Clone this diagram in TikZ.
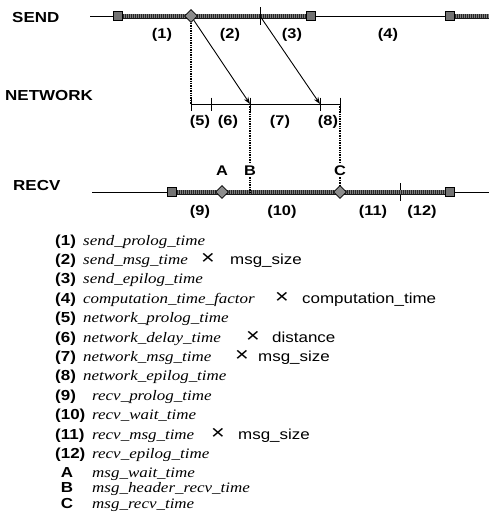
\documentclass[tikz,border=0pt]{standalone}
\usepackage{fontspec}
\setmainfont{Liberation Serif}[FakeStretch=1.17]
\setsansfont{Liberation Sans}[FakeStretch=1.17]
\usetikzlibrary{shapes.geometric,backgrounds,arrows.meta}

\tikzset{
  lane/.style={font=\sffamily\bfseries\fontsize{14.5}{16}\selectfont, anchor=base west, inner sep=0pt},
  seg/.style={font=\sffamily\bfseries\fontsize{14}{15}\selectfont, anchor=base, inner sep=0pt},
  eventlabel/.style={font=\sffamily\bfseries\fontsize{14}{15}\selectfont, anchor=base, inner sep=2pt},
  endbox/.style={draw, line width=0.8pt, fill=black!55, minimum size=8.5pt, inner sep=0pt},
  waitmark/.style={draw, diamond, line width=0.8pt, fill=black!45, minimum size=13pt, inner sep=0pt},
  wire/.style={line width=0.8pt},
  tickline/.style={line width=0.9pt},
  bar/.style={draw=black!50, line width=3.4pt, preaction={draw=black!90, line width=5pt},
    postaction={draw=black!85, line width=3.4pt, dash pattern=on 1pt off 1pt}},
  msg/.style={->, line width=0.9pt},
  drop/.style={densely dotted, line width=1.4pt},
  num/.style={font=\sffamily\bfseries\fontsize{14.5}{16}\selectfont, anchor=base west, inner sep=0pt},
  term/.style={font=\itshape\fontsize{14.5}{16}\selectfont, anchor=base west, inner sep=0pt},
  factor/.style={font=\sffamily\fontsize{14.5}{16}\selectfont, anchor=base west, inner sep=0pt},
  timessign/.style={font=\sffamily\fontsize{20}{22}\selectfont, anchor=center, inner sep=0pt},
}

\begin{document}
\begin{tikzpicture}[x=1pt, y=-1pt, >={Stealth[length=7pt, width=5pt]}]
  \useasboundingbox (0,0) rectangle (489,512);
  \def\sy{16} \def\ny{104} \def\ry{192}

  % lanes
  \node[lane] (send) at (12,22) {SEND};
  \node[lane] (net) at (5,100) {NETWORK};
  \node[lane] (recv) at (13,190) {RECV};

  % sender events
  \coordinate (s0) at (90,\sy);
  \node[endbox] (s1) at (118,\sy) {};
  \node[waitmark] (s2) at (191,\sy) {};
  \coordinate (s3) at (260,\sy);
  \node[endbox] (s4) at (311,\sy) {};
  \node[endbox] (s5) at (450,\sy) {};
  \coordinate (sEnd) at (489,\sy);

  % network events
  \coordinate (n1) at (191,\ny);
  \coordinate (n2) at (211,\ny);
  \coordinate (n3) at (250,\ny);
  \coordinate (n4) at (320,\ny);
  \coordinate (n5) at (340,\ny);

  % receiver events
  \coordinate (r0) at (92,\ry);
  \node[endbox] (r1) at (172,\ry) {};
  \node[waitmark] (r2) at (222,\ry) {};
  \coordinate (rB) at (250,\ry);
  \node[waitmark] (r3) at (340,\ry) {};
  \coordinate (r4) at (400,\ry);
  \node[endbox] (r5) at (450,\ry) {};
  \coordinate (rEnd) at (489,\ry);

  \node[eventlabel] (evA) at (222,175) {A};
  \node[eventlabel] (evB) at (250,175) {B};
  \node[eventlabel] (evC) at (340,175) {C};

  \begin{pgfonlayer}{background}
    \draw[wire] (s0) -- (s1);
    \draw[bar] (s1) -- (s4);
    \draw[wire] (s4) -- (s5);
    \draw[bar] (s5) -- (sEnd);
    \foreach \m in {s1,s2,s3,s4,s5,r1,r2,r3,r4,r5}
      \draw[tickline] ([yshift=9pt]\m) -- ([yshift=-9pt]\m);

    \draw[wire] (n1) -- (n5);
    \foreach \m in {n1,n2,n3,n4,n5}
      \draw[tickline] ([yshift=6.5pt]\m) -- ([yshift=-6.5pt]\m);

    \draw[wire] (r0) -- (r1);
    \draw[bar] (r1) -- (r5);
    \draw[wire] (r5) -- (rEnd);
  \end{pgfonlayer}

  \draw[drop] (s2.south) -- (n1);
  \draw[msg] (s2) -- (n3);
  \draw[msg] (s3) -- (n4);
  \draw[drop] (n3) -- (evB.north);
  \draw[drop] (evB.south) -- (rB);
  \draw[drop] (n5) -- (evC.north);
  \draw[drop] (evC.south) -- (r3.north);

  % interval numbers
  \node[seg] (seg1) at (162,38) {(1)};
  \node[seg] (seg2) at (230,38) {(2)};
  \node[seg] (seg3) at (292,38) {(3)};
  \node[seg] (seg4) at (388,38) {(4)};
  \node[seg] (seg5) at (200,125) {(5)};
  \node[seg] (seg6) at (228,125) {(6)};
  \node[seg] (seg7) at (280,125) {(7)};
  \node[seg] (seg8) at (328,125) {(8)};
  \node[seg] (seg9) at (200,215) {(9)};
  \node[seg] (seg10) at (282,215) {(10)};
  \node[seg] (seg11) at (373,215) {(11)};
  \node[seg] (seg12) at (422,215) {(12)};

  % legend
  \foreach \i/\txt/\xt in {1/send\_prolog\_time/83, 2/send\_msg\_time/83, 3/send\_epilog\_time/83,
      4/computation\_time\_factor/83, 5/network\_prolog\_time/83, 6/network\_delay\_time/83,
      7/network\_msg\_time/83, 8/network\_epilog\_time/83, 9/recv\_prolog\_time/92,
      10/recv\_wait\_time/92, 11/recv\_msg\_time/92, 12/recv\_epilog\_time/92} {
    \node[num] (key\i) at (55,{245+19.4*(\i-1)}) {(\i)};
    \node[term] (term\i) at (\xt,{245+19.4*(\i-1)}) {\txt};
  }
  \foreach \i/\xx/\xf/\txt in {2/208/230/msg\_size, 4/282/302/computation\_time,
      6/253/272/distance, 7/242/258/msg\_size, 11/218/238/msg\_size} {
    \node[timessign] (times\i) at (\xx,{240+19.4*(\i-1)}) {×};
    \node[factor] (fac\i) at (\xf,{245+19.4*(\i-1)}) {\txt};
  }
  \foreach \k/\txt [count=\j from 0] in {A/msg\_wait\_time, B/msg\_header\_recv\_time, C/msg\_recv\_time} {
    \node[num, anchor=base] (key\k) at (67,{477+15.5*\j}) {\k};
    \node[term] (term\k) at (92,{477+15.5*\j}) {\txt};
  }
\end{tikzpicture}
\end{document}
